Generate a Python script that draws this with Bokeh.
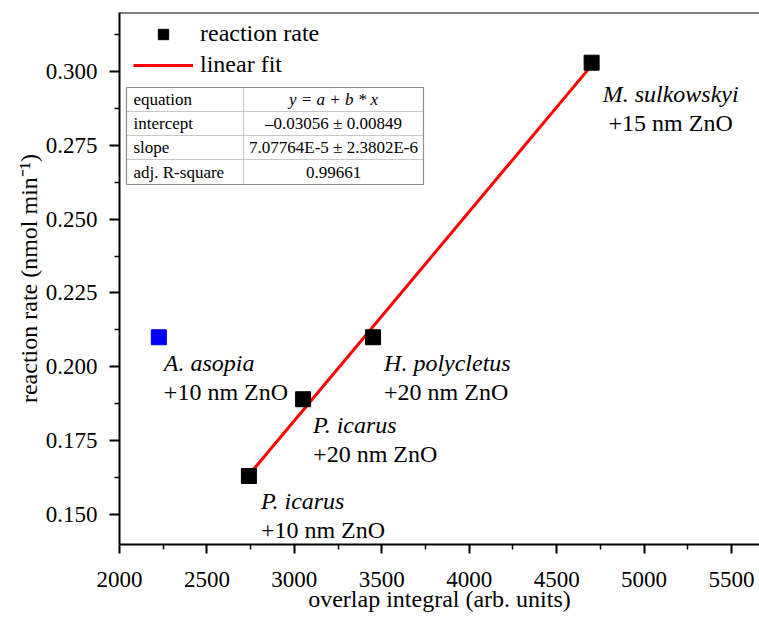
from bokeh.plotting import figure
from bokeh.models import (ColumnDataSource, Legend, LegendItem, Span, NumeralTickFormatter,
                          FixedTicker)
from bokeh.core.properties import value
from bokeh.embed import file_html
from bokeh.resources import INLINE

# ---- data ----
fit_x = [2740, 3050, 3450, 4700]
fit_y = [0.163, 0.189, 0.210, 0.303]
fit_names = ["P. icarus", "P. icarus", "H. polycletus", "M. sulkowskyi"]
fit_sizes = ["+10 nm ZnO", "+20 nm ZnO", "+20 nm ZnO", "+15 nm ZnO"]
out_x = [2225]
out_y = [0.210]
out_names = ["A. asopia"]
out_sizes = ["+10 nm ZnO"]
intercept = -0.03056
intercept_err = 0.00849
slope = 7.07764e-5
slope_err = 2.3802e-6
adj_r2 = 0.99661
x_ticks = [2000, 2500, 3000, 3500, 4000, 4500, 5000, 5500]
y_ticks = [0.150, 0.175, 0.200, 0.225, 0.250, 0.275, 0.300]

FONT = "Liberation Serif"
W, H = 759, 621
FL, FT, FH = 119, 12, 532          # frame left / top / height in page px
FW = W - FL                        # frame width in page px
PX_PER_X = 0.17486
X0 = 2000
X1 = X0 + FW / PX_PER_X
Y0, Y1 = 0.1398, 0.3200


def dx(px):
    return X0 + (px - FL) * (X1 - X0) / FW


def dy(py):
    return Y1 - (py - FT) * (Y1 - Y0) / FH


def minors(ticks):
    step = ticks[1] - ticks[0]
    ext = [ticks[0] - step] + list(ticks) + [ticks[-1] + step]
    return [(a + b) / 2 for a, b in zip(ext[:-1], ext[1:])]


p = figure(width=W, height=H, x_range=(X0, X1), y_range=(Y0, Y1),
           output_backend="svg", toolbar_location=None,
           min_border_left=FL, min_border_right=0, min_border_top=FT,
           min_border_bottom=H - FT - FH)
p.outline_line_color = None
p.grid.visible = False
p.background_fill_color = "white"
p.border_fill_color = "white"

for ax in (p.xaxis[0], p.yaxis[0]):
    ax.axis_line_width = 2
    ax.axis_line_color = "black"
    ax.major_tick_line_width = 2
    ax.minor_tick_line_width = 1.5
    ax.minor_tick_line_color = "black"
    ax.major_tick_in = 0
    ax.minor_tick_in = 0
    ax.major_label_text_font = FONT
    ax.major_label_text_font_size = "23px"
    ax.major_label_text_color = "black"
    ax.axis_label_text_font = FONT
    ax.axis_label_text_font_size = "24px"
    ax.axis_label_text_font_style = "normal"
    ax.axis_label_text_color = "black"

p.xaxis[0].ticker = FixedTicker(ticks=x_ticks, minor_ticks=minors(x_ticks))
p.yaxis[0].ticker = FixedTicker(ticks=y_ticks, minor_ticks=minors(y_ticks))
p.xaxis.major_tick_out = 9
p.xaxis.minor_tick_out = 5
p.yaxis.major_tick_out = 10
p.yaxis.minor_tick_out = 5
p.xaxis.major_label_standoff = 18
p.yaxis.major_label_standoff = 12
p.xaxis.axis_label = "overlap integral (arb. units)"
p.yaxis.axis_label = "reaction rate (nmol min\u207b\u00b9)"
p.xaxis.axis_label_standoff = -4
p.yaxis.axis_label_standoff = 1
p.yaxis.formatter = NumeralTickFormatter(format="0.000")

# top frame line
p.add_layout(Span(location=Y1, dimension="width", line_color="black", line_width=2))

# fit line computed from fit parameters
lx = [min(fit_x), max(fit_x)]
ly = [intercept + slope * v for v in lx]
fit_r = p.line(lx, ly, line_color="#ff0000", line_width=3)

src = ColumnDataSource(dict(x=fit_x, y=fit_y))
pts = p.scatter("x", "y", source=src, marker="square", size=15,
                fill_color="black", line_color="black")
p.scatter(out_x, out_y, marker="square", size=15, fill_color="#0000ff", line_color="#0000ff")

# point labels
name_dx = [12, 10, 11, 79]
name_dy = [25, 26, 26, 31]
size_dy = [54, 55, 55, 60]
aligns = ["left", "left", "left", "center"]
lab = ColumnDataSource(dict(
    x=fit_x + out_x, y=fit_y + out_y,
    name=fit_names + out_names, size=fit_sizes + out_sizes,
    xo=name_dx + [5], yo1=name_dy + [26], yo2=size_dy + [55],
    al=aligns + ["left"]))
p.text("x", "y", text="name", source=lab, x_offset="xo", y_offset="yo1",
       text_align="al", text_baseline="alphabetic", text_font=value(FONT),
       text_font_size="24px", text_font_style="italic", text_color="black")
p.text("x", "y", text="size", source=lab, x_offset="xo", y_offset="yo2",
       text_align="al", text_baseline="alphabetic", text_font=value(FONT),
       text_font_size="24px", text_color="black")

# parameter table
t_left, t_mid, t_right = dx(126), dx(243), dx(423)
rows_px = [87, 111, 135, 159, 184]
rows = [dy(v) for v in rows_px]
p.quad(left=[t_left] * 4 + [t_mid] * 4,
       right=[t_mid] * 4 + [t_right] * 4,
       top=rows[:4] * 2, bottom=rows[1:] * 2,
       fill_color="white", line_color="#c8c8c8", line_width=1)
p.quad(left=[t_left], right=[t_right], top=[rows[0]], bottom=[rows[-1]],
       fill_color=None, line_color="#909090", line_width=1.2)
row_c = [(rows[i] + rows[i + 1]) / 2 for i in range(4)]
left_txt = ["equation", "intercept", "slope", "adj. R-square"]
right_txt = ["y = a + b * x",
             "\u2013%.5f \u00b1 %.5f" % (abs(intercept), intercept_err),
             "%sE-5 \u00b1 %sE-6" % ("%.5f" % (slope * 1e5), "%.4f" % (slope_err * 1e6)),
             "%.5f" % adj_r2]
p.text([dx(133)] * 4, row_c, text=left_txt, text_align="left", text_baseline="middle",
       text_font=value(FONT), text_font_size="17px", text_color="black")
p.text([(t_mid + t_right) / 2] * 3, row_c[1:], text=right_txt[1:], text_align="center",
       text_baseline="middle", text_font=value(FONT), text_font_size="17px", text_color="black")
p.text([(t_mid + t_right) / 2], row_c[:1], text=right_txt[:1], text_align="center",
       text_baseline="middle", text_font=value(FONT), text_font_size="17px",
       text_font_style="italic", text_color="black")

legend = Legend(items=[LegendItem(label="reaction rate", renderers=[pts]),
                       LegendItem(label="linear fit", renderers=[fit_r])],
                location=(14, FH - 10 - 56), padding=0, margin=0, spacing=4,
                glyph_width=60, glyph_height=26, label_height=26, label_standoff=7,
                label_text_font=FONT, label_text_font_size="24px",
                label_text_color="black",
                border_line_color=None, background_fill_alpha=0)
p.add_layout(legend)

open("out.html", "w").write(file_html(p, INLINE))
